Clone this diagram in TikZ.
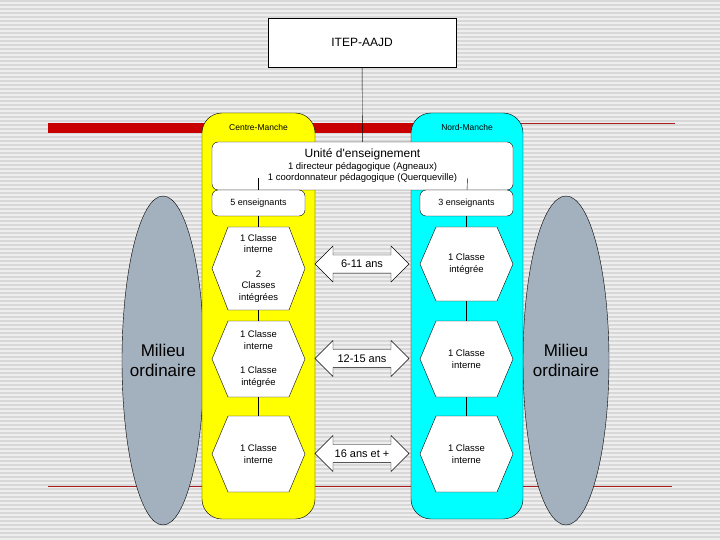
\documentclass[tikz,border=0pt]{standalone}
\usepackage{fontspec}
\setmainfont{Liberation Sans}
\usetikzlibrary{shapes.geometric,shapes.arrows}
\definecolor{stripelight}{RGB}{238,238,238}
\definecolor{stripedark}{RGB}{216,216,216}
\definecolor{redbar}{RGB}{200,0,0}
\definecolor{redline}{RGB}{170,30,30}
\definecolor{milieugray}{RGB}{163,176,189}
\definecolor{nordcyan}{RGB}{0,255,255}
\definecolor{centreyellow}{RGB}{255,255,0}

% hexagone: name, x, y, half height, text
\newcommand{\hexagone}[5]{%
  \filldraw[fill=white] (#2-46.5,#3) -- (#2-30.5,#3-#4) -- (#2+30.5,#3-#4)
    -- (#2+46.5,#3) -- (#2+30.5,#3+#4) -- (#2-30.5,#3+#4) -- cycle;
  \node[hexa, minimum height=2*#4 pt] (#1) at (#2,#3) {#5};
}

\begin{document}
\begin{tikzpicture}[x=1pt,y=-1pt,
  box/.style={draw, fill=white, rounded corners=6pt, inner sep=1pt, align=center},
  small/.style={font=\fontsize{9}{11.5}\selectfont},
  hexa/.style={minimum width=93pt, inner sep=0pt, align=center,
    font=\fontsize{9.5}{11.5}\selectfont},
  age/.style={double arrow, double arrow head extend=8.5pt, draw, fill=white,
    minimum height=94pt, minimum width=36pt, inner xsep=1pt, inner ysep=4.5pt,
    font=\fontsize{11}{12}\selectfont},
  milieu/.style={ellipse, draw, fill=milieugray, inner sep=-12pt, align=center,
    minimum height=329pt, font=\fontsize{17}{20}\selectfont}]

\useasboundingbox (0,0) rectangle (720,540);
\fill[stripelight] (0,0) rectangle (720,540);
\foreach \y in {0,4,...,536} \fill[stripedark] (0,\y) rectangle (720,\y+2);

\fill[redbar] (48,123) rectangle (450,133);
\draw[redline] (450,123.5) -- (675,123.5);
\draw[redline] (48,486) -- (672,486);

\node[milieu, minimum width=82pt] (milieuG) at (163,360.5) {Milieu\\ordinaire};
\node[milieu, minimum width=86pt] (milieuD) at (566,360.5) {Milieu\\ordinaire};

\filldraw[fill=centreyellow, rounded corners=20pt] (202,113) rectangle (315,519);
\filldraw[fill=nordcyan, rounded corners=20pt] (411,113) rectangle (523,519);
\node[font=\fontsize{8.5}{10}\selectfont] (centre) at (258.5,127.5) {Centre-Manche};
\node[font=\fontsize{8.5}{10}\selectfont] (nord) at (467,127.5) {Nord-Manche};

\node[draw, fill=white, minimum width=188pt, minimum height=49pt,
  font=\fontsize{12}{14}\selectfont] (itep) at (362,42.5) {ITEP-AAJD};
\node[box, minimum width=301pt, minimum height=48pt, font=\fontsize{9.5}{11.5}\selectfont]
  (unite) at (362.5,166) {{\fontsize{12}{13}\selectfont Unité d\textquotesingle enseignement}\\
  1 directeur pédagogique (Agneaux)\\1 coordonnateur pédagogique (Querqueville)};
\draw (itep) -- (unite);

\node[box, minimum width=93pt, minimum height=26pt, small] (ens5) at (258.5,203) {5 enseignants};
\node[box, minimum width=93pt, minimum height=26pt, small] (ens3) at (466.5,203) {3 enseignants};
\coordinate (tick5) at (258.5,178);
\coordinate (tick3) at (467.5,178);
\draw (ens5) -- (tick5);
\draw (ens3) -- (tick3);

\hexagone{hexG1}{258.5}{268.5}{41.5}{1 Classe\\interne\\[13pt]2\\Classes\\intégrées}
\hexagone{hexG2}{258.5}{359}{38}{1 Classe\\interne\\[13pt]1 Classe\\intégrée}
\hexagone{hexG3}{258.5}{454}{38}{1 Classe\\interne}
\hexagone{hexD1}{466.5}{264}{37}{1 Classe\\intégrée}
\hexagone{hexD2}{466.5}{359}{38}{1 Classe\\interne}
\hexagone{hexD3}{466.5}{454}{38}{1 Classe\\interne}

\draw (ens5) -- (hexG1);
\draw (hexG1) -- (hexG2);
\draw (hexG2) -- (hexG3);
\draw (ens3) -- (hexD1);
\draw (hexD1) -- (hexD2);
\draw (hexD2) -- (hexD3);

\node[age] (age1) at (362,264) {6-11 ans};
\node[age] (age2) at (362,358.5) {12-15 ans};
\node[age] (age3) at (362,453.5) {16 ans et +};

\end{tikzpicture}
\end{document}
